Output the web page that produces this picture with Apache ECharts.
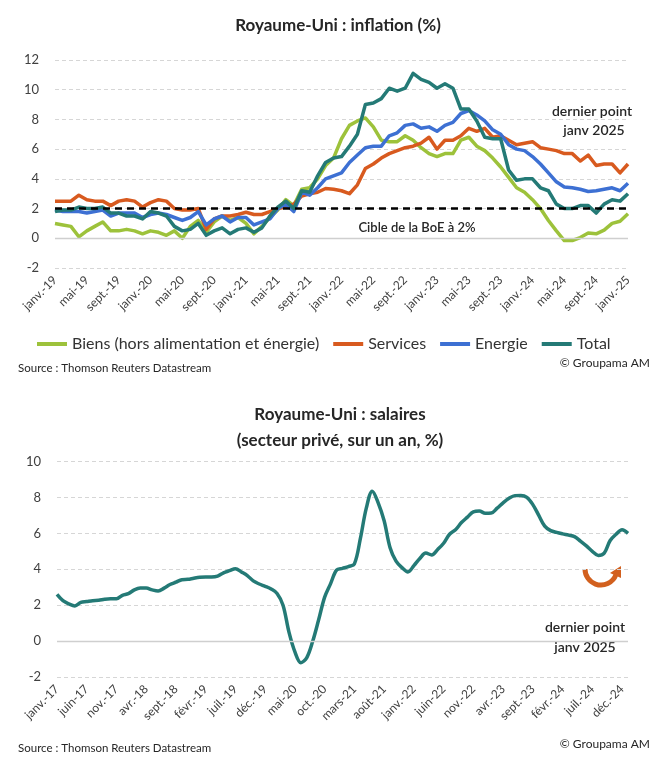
<!DOCTYPE html>
<html>
<head>
<meta charset="utf-8">
<script src="https://cdn.jsdelivr.net/npm/echarts@6/dist/echarts.min.js"></script>
<style>
html,body{margin:0;padding:0;background:#fff;}
#c{width:667px;height:768px;}
</style>
</head>
<body>
<div id="c"></div>
<script>
// ---------- DATA ----------
const MONTHS = ['janv.','févr.','mars','avr.','mai','juin','juil.','août','sept.','oct.','nov.','déc.'];
function monthLabels(y0, n){ const out=[]; for(let i=0;i<n;i++){ const m=i%12, y=y0+Math.floor(i/12); out.push(MONTHS[m]+'-'+String(y%100).padStart(2,'0')); } return out; }

// Chart 1: janv.-19 .. janv.-25 (73 months)
const inflCategories = monthLabels(2019, 73);
const biens = [
 1.0,0.9,0.8,0.1,0.5,0.8,1.1,0.5,0.5,0.6,0.5,0.3,
 0.5,0.4,0.2,0.5,0.0,0.8,1.2,0.4,1.1,1.5,1.2,1.4,
 1.0,0.3,0.8,1.4,1.9,2.6,2.2,3.3,3.4,4.0,4.9,5.4,
 6.7,7.6,7.9,8.1,7.5,6.6,6.5,6.5,6.9,6.6,6.1,5.7,
 5.5,5.7,5.7,6.6,6.8,6.2,5.9,5.4,4.8,4.1,3.4,3.1,
 2.6,2.0,1.2,0.5,-0.15,-0.15,0.05,0.35,0.3,0.55,1.0,1.15,
 1.65];
const services = [
 2.5,2.5,2.5,2.9,2.6,2.5,2.5,2.2,2.5,2.6,2.5,2.1,
 2.4,2.6,2.5,2.0,1.9,1.9,2.0,0.6,1.3,1.5,1.5,1.6,
 1.75,1.6,1.6,1.8,2.0,2.1,2.3,2.85,3.0,3.1,3.35,3.3,
 3.2,3.0,3.6,4.7,5.0,5.4,5.7,5.9,6.1,6.2,6.4,6.8,
 6.0,6.6,6.6,6.9,7.4,7.2,7.4,6.8,6.9,6.6,6.3,6.4,
 6.5,6.1,6.0,5.9,5.7,5.7,5.2,5.6,4.9,5.0,5.0,4.4,
 5.0];
const energie = [
 1.9,1.8,1.8,1.8,1.7,1.8,1.9,1.5,1.7,1.7,1.7,1.4,
 1.6,1.7,1.6,1.4,1.2,1.4,1.8,0.9,1.3,1.5,1.1,1.4,
 1.4,0.9,1.1,1.3,2.0,2.3,1.8,3.1,2.9,3.4,4.0,4.2,
 4.4,5.1,5.6,6.1,6.2,6.2,6.9,7.1,7.6,7.7,7.4,7.5,
 7.2,7.6,7.8,8.4,8.6,8.3,7.9,7.3,7.0,6.3,6.0,5.9,
 5.5,5.0,4.4,3.8,3.45,3.4,3.3,3.15,3.2,3.3,3.4,3.2,
 3.7];
const total = [
 1.8,1.9,1.9,2.1,2.0,2.0,2.1,1.7,1.7,1.5,1.5,1.3,
 1.8,1.7,1.5,0.8,0.5,0.6,1.0,0.2,0.5,0.7,0.3,0.6,
 0.7,0.4,0.7,1.5,2.1,2.5,2.0,3.2,3.1,4.2,5.1,5.4,
 5.5,6.2,7.0,9.0,9.1,9.4,10.1,9.9,10.1,11.1,10.7,10.5,
 10.1,10.4,10.1,8.7,8.7,7.9,6.8,6.7,6.7,4.6,3.9,4.0,
 4.0,3.4,3.2,2.3,2.0,2.0,2.2,2.2,1.7,2.3,2.6,2.5,
 3.0];
const inflTicks = {min:-2, max:12, interval:2};
const bocTarget = 2;

// Chart 2: janv.-17 .. janv.-25 (97 months)
const wageCategories = monthLabels(2017, 97);
const salaires = [
 2.6,2.25,2.07,1.96,2.15,2.2,2.25,2.27,2.33,2.36,2.36,2.55,
 2.64,2.85,2.95,2.95,2.85,2.79,2.95,3.15,3.28,3.42,3.44,3.5,
 3.55,3.57,3.57,3.62,3.8,3.92,4.03,3.85,3.65,3.35,3.18,3.05,
 2.9,2.65,2.0,0.5,-0.6,-1.2,-0.92,0.0,1.2,2.45,3.2,3.95,
 4.05,4.15,4.3,5.7,7.4,8.35,7.7,6.7,5.2,4.45,4.09,3.85,
 4.2,4.6,4.9,4.8,5.1,5.45,5.95,6.2,6.6,6.9,7.2,7.24,
 7.12,7.13,7.4,7.7,7.95,8.1,8.11,8.0,7.6,7.0,6.4,6.15,
 6.05,5.97,5.9,5.82,5.57,5.3,5.0,4.77,4.9,5.6,5.95,6.2,
 6.0];
const wageTicks = {min:-2, max:10, interval:2};

// ---------- STYLE ----------
const FONT = 'Lato, "Open Sans", sans-serif';
const C_GREEN = '#9dc23b', C_ORANGE = '#d85a1f', C_BLUE = '#3d70d3', C_TEAL = '#247a76';
const TXT = '#262626', AX = '#404040';

function lineSeries(name, data, color, xi, extra){
  return Object.assign({
    name, type:'line', data, xAxisIndex:xi, yAxisIndex:xi,
    symbol:'none', showSymbol:false,
    lineStyle:{color, width:3.5, join:'round'}, itemStyle:{color},
    emphasis:{disabled:true}, animation:false
  }, extra||{});
}
const zeroLine = {silent:true, symbol:'none', label:{show:false}, animation:false,
  data:[{yAxis:0, lineStyle:{color:'#cfcfcf', type:'solid', width:1.3}}]};

function xAxisCfg(gi, cats, interval){
  return {type:'category', gridIndex:gi, data:cats, boundaryGap:false,
    axisLine:{show:false}, axisTick:{show:false}, splitLine:{show:false},
    axisLabel:{interval, rotate:45, fontSize:12, color:AX, fontFamily:FONT, margin:10}};
}
function yAxisCfg(gi, t){
  return {type:'value', gridIndex:gi, min:t.min, max:t.max, interval:t.interval,
    axisLine:{show:false}, axisTick:{show:false},
    axisLabel:{fontSize:13, color:AX, fontFamily:FONT, margin:16},
    splitLine:{lineStyle:{color:'#d6d6d6', type:[4,3], width:1}}};
}

const chart = echarts.init(document.getElementById('c'), null, {renderer:'canvas'});
const option = {
  backgroundColor:'#fff',
  animation:false,
  title:[
    {text:'Royaume-Uni : inflation (%)', left:333, top:12, textAlign:'center',
     textStyle:{fontFamily:FONT, fontSize:17, fontWeight:'bold', color:TXT}},
    {text:'Royaume-Uni : salaires\n(secteur privé, sur un an, %)', left:335, top:397, textAlign:'center',
     textStyle:{fontFamily:FONT, fontSize:17, fontWeight:'bold', color:TXT, lineHeight:26}}
  ],
  legend:{
    show:true, left:32, top:331, itemWidth:30, itemHeight:4, itemGap:14, icon:'rect',
    textStyle:{fontFamily:FONT, fontSize:16, color:'#333'},
    data:['Biens (hors alimentation et énergie)','Services','Energie','Total']
  },
  grid:[
    {left:55, right:39, top:60, height:208, containLabel:false},
    {left:57, right:39, top:461.5, height:215.5, containLabel:false}
  ],
  xAxis:[ xAxisCfg(0, inflCategories, 3), xAxisCfg(1, wageCategories, 4) ],
  yAxis:[ yAxisCfg(0, inflTicks), yAxisCfg(1, wageTicks) ],
  series:[
    lineSeries('Biens (hors alimentation et énergie)', biens, C_GREEN, 0, {markLine:zeroLine}),
    lineSeries('Services', services, C_ORANGE, 0),
    lineSeries('Energie', energie, C_BLUE, 0),
    lineSeries('Total', total, C_TEAL, 0, {markLine:{silent:true, symbol:'none', label:{show:false}, animation:false,
      data:[{yAxis:bocTarget, lineStyle:{color:'#000', type:[7,5], width:2.5}}]}}),
    lineSeries('Salaires', salaires, C_TEAL, 1, {smooth:0.35, markLine:zeroLine})
  ],
  graphic:[
    {type:'text', left:18, top:362, style:{text:'Source : Thomson Reuters Datastream', font:'11.5px '+FONT, fill:TXT}},
    {type:'text', right:17, top:357, style:{text:'© Groupama AM', font:'12px '+FONT, fill:TXT}},
    {type:'text', left:18, top:742, style:{text:'Source : Thomson Reuters Datastream', font:'11.5px '+FONT, fill:TXT}},
    {type:'text', right:17, top:738, style:{text:'© Groupama AM', font:'12px '+FONT, fill:TXT}},
    {type:'text', x:592, y:111, style:{text:'dernier point', textAlign:'center', textVerticalAlign:'middle', font:'600 14px '+FONT, fill:TXT}},
    {type:'text', x:594, y:130, style:{text:'janv 2025', textAlign:'center', textVerticalAlign:'middle', font:'600 14px '+FONT, fill:TXT}},
    {type:'text', x:417, y:228, style:{text:'Cible de la BoE à 2%', textAlign:'center', textVerticalAlign:'middle', font:'600 13px '+FONT, fill:TXT}},
    {type:'text', x:585, y:627, style:{text:'dernier point', textAlign:'center', textVerticalAlign:'middle', font:'600 14px '+FONT, fill:TXT}},
    {type:'text', x:585, y:647, style:{text:'janv 2025', textAlign:'center', textVerticalAlign:'middle', font:'600 14px '+FONT, fill:TXT}},
    {type:'arc', shape:{cx:601, cy:569, r:16, startAngle:0.35, endAngle:Math.PI, clockwise:true},
     style:{stroke:'#d2601e', lineWidth:5, fill:null, lineCap:'butt'}},
    {type:'polygon', shape:{points:[[610,573],[621,566],[621,578]]}, style:{fill:'#d2601e'}}
  ]
};
chart.setOption(option);
</script>
</body>
</html>
